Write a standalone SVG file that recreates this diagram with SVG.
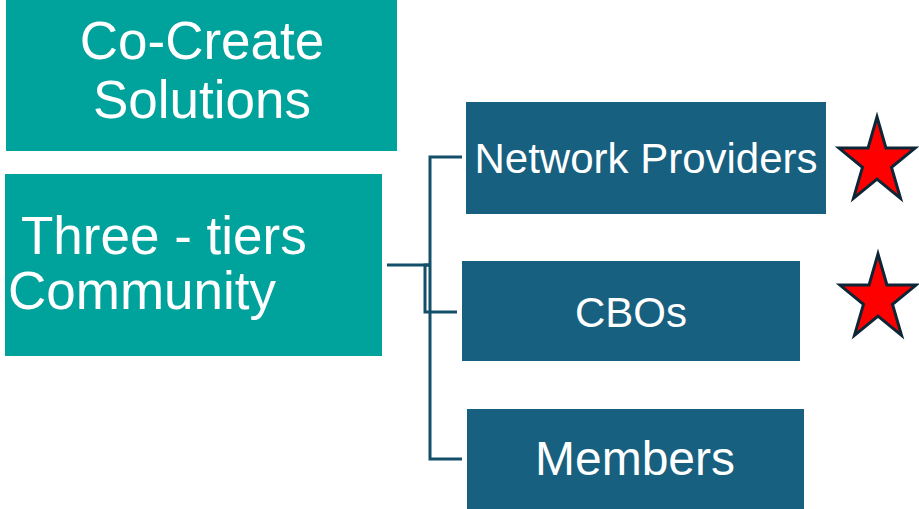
<svg xmlns="http://www.w3.org/2000/svg" width="919" height="509" viewBox="0 0 919 509">
  <style>
    .teal { fill: #00a39c; }
    .blue { fill: #17607f; }
    .label { fill: #ffffff; font-family: "Liberation Sans", Arial, sans-serif; }
    .wire { fill: none; stroke: #134f69; stroke-width: 3; }
    .star { fill: #ff0000; stroke: #0c2636; stroke-width: 3; stroke-linejoin: miter; }
  </style>
  <defs>
    <polygon id="star-shape" class="star" points="0,-45 8.98,-13.9 38.04,-13.9 14.52,5.31 23.52,36.4 0,17.19 -23.52,36.4 -14.52,5.31 -38.04,-13.9 -8.98,-13.9"/>
  </defs>
  <rect width="919" height="509" fill="#ffffff"/>

  <g id="co-create">
    <rect class="teal" x="6" y="0" width="391" height="151"/>
    <text class="label" x="202" y="59" font-size="53" text-anchor="middle">Co-Create</text>
    <text class="label" x="202" y="118" font-size="53" text-anchor="middle">Solutions</text>
  </g>

  <g id="three-tiers">
    <rect class="teal" x="5" y="174" width="377" height="182"/>
    <text class="label" x="21" y="254" font-size="53">Three - tiers</text>
    <text class="label" x="8" y="309" font-size="53">Community</text>
  </g>

  <g id="connectors">
    <path class="wire" d="M387,265 H430"/>
    <path class="wire" d="M462,157 H430 V459 H462"/>
    <path class="wire" d="M430,265 H425 V312 H457"/>
  </g>

  <g id="network-providers">
    <rect class="blue" x="466" y="102" width="360" height="112"/>
    <text class="label" x="646" y="173" font-size="42" text-anchor="middle">Network Providers</text>
  </g>

  <g id="cbos">
    <rect class="blue" x="462" y="261" width="338" height="100"/>
    <text class="label" x="631" y="327" font-size="42" text-anchor="middle">CBOs</text>
  </g>

  <g id="members">
    <rect class="blue" x="467" y="409" width="337" height="100"/>
    <text class="label" x="635" y="475" font-size="48" text-anchor="middle">Members</text>
  </g>

  <g id="stars">
    <use href="#star-shape" x="877" y="162"/>
    <use href="#star-shape" x="878" y="299"/>
  </g>
</svg>
